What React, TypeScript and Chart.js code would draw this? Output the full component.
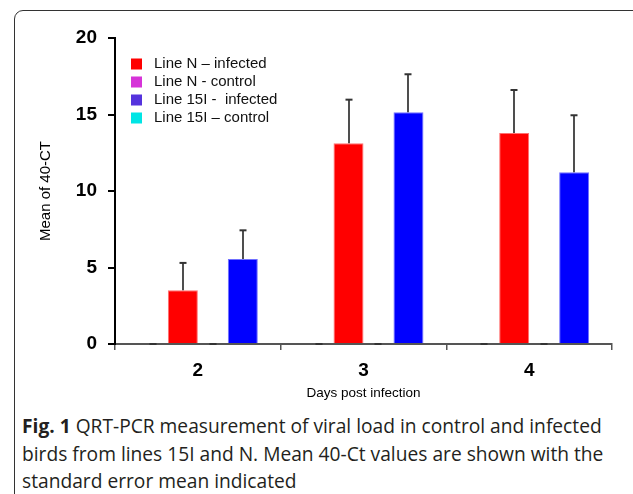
import React, { useEffect, useRef } from "react";
import { Chart, registerables } from "chart.js";

Chart.register(...registerables);

// ---- data ----
const days = ["2", "3", "4"];
const lineNInfected = [3.52, 13.12, 13.79];
const lineNInfectedErr = [1.78, 2.85, 2.81];
const lineNControl = [0, 0, 0];
const lineNControlErr = [0, 0, 0];
const line15IInfected = [5.56, 15.14, 11.22];
const line15IInfectedErr = [1.87, 2.49, 3.73];
const line15IControl = [0, 0, 0];
const line15IControlErr = [0, 0, 0];
const yMin = 0;
const yMax = 20;
const yStep = 5;

const legendOrder = [1, 0, 3, 2]; // dataset indices in legend order

const FONT = "'Liberation Sans', Arial, Helvetica, sans-serif";

const errorBarPlugin = {
  id: "errorBars",
  afterDatasetsDraw(chart: any) {
    const ctx = chart.ctx;
    const y = chart.scales.y;
    chart.data.datasets.forEach((ds: any, di: number) => {
      const meta = chart.getDatasetMeta(di);
      meta.data.forEach((bar: any, i: number) => {
        const v = ds.data[i];
        const e = ds.errors[i];
        const yTop = y.getPixelForValue(v + e);
        const x = Math.round(bar.x);
        ctx.save();
        if (e > 0) {
          ctx.strokeStyle = "#222";
          ctx.lineWidth = 1.6;
          ctx.beginPath();
          ctx.moveTo(x, bar.y);
          ctx.lineTo(x, yTop);
          ctx.stroke();
        }
        ctx.strokeStyle = "#333";
        ctx.lineWidth = 2;
        ctx.beginPath();
        ctx.moveTo(x - 3.5, yTop);
        ctx.lineTo(x + 3.5, yTop);
        ctx.stroke();
        ctx.restore();
      });
    });
  },
};

const legendPlugin = {
  id: "insideLegend",
  afterDraw(chart: any) {
    const ctx = chart.ctx;
    const area = chart.chartArea;
    const x0 = area.left + 16;
    const y0 = area.top + 26;
    const rowH = 18;
    ctx.save();
    ctx.font = `15px ${FONT}`;
    ctx.textBaseline = "middle";
    ctx.textAlign = "left";
    legendOrder.forEach((di, r) => {
      const ds = chart.data.datasets[di];
      const cy = y0 + r * rowH;
      ctx.fillStyle = ds.legendColor;
      ctx.fillRect(x0, cy - 5.5, 11, 11);
      ctx.fillStyle = "#111";
      ctx.fillText(ds.label, x0 + 23, cy);
    });
    ctx.restore();
  },
};

function BarChart() {
  const ref = useRef<HTMLCanvasElement>(null);
  useEffect(() => {
    if (!ref.current) return;
    const chart = new Chart(ref.current, {
      type: "bar",
      data: {
        labels: days,
        datasets: [
          {
            label: "Line N - control",
            data: lineNControl,
            errors: lineNControlErr,
            backgroundColor: "#D633D8",
            legendColor: "#D633D8",
            borderWidth: 0,
          },
          {
            label: "Line N \u2013 infected",
            data: lineNInfected,
            errors: lineNInfectedErr,
            backgroundColor: "#FF0000",
            borderColor: "#FF7070",
            borderWidth: 1,
            legendColor: "#FF0000",
          },
          {
            label: "Line 15I \u2013 control",
            data: line15IControl,
            errors: line15IControlErr,
            backgroundColor: "#00E5E5",
            legendColor: "#00E5E5",
            borderWidth: 0,
          },
          {
            label: "Line 15I -  infected",
            data: line15IInfected,
            errors: line15IInfectedErr,
            backgroundColor: "#0000FF",
            borderColor: "#7070FF",
            borderWidth: 1,
            legendColor: "#5533DD",
          },
        ] as any,
      },
      options: {
        responsive: false,
        devicePixelRatio: 1,
        animation: false,
        layout: { padding: { left: 37, right: 21, top: 38, bottom: 0 } },
        datasets: {
          bar: { categoryPercentage: 0.724, barPercentage: 1 },
        },
        plugins: {
          legend: { display: false },
          tooltip: { enabled: false },
        },
        scales: {
          x: {
            offset: true,
            afterFit(scale: any) {
              scale.height = 66;
            },
            grid: {
              offset: true,
              drawOnChartArea: false,
              drawTicks: true,
              tickLength: 6,
              color: "#555",
              lineWidth: 1.5,
            },
            border: { color: "#555", width: 2 },
            ticks: {
              color: "#000",
              padding: 9,
              font: { family: FONT, size: 19, weight: "bold" },
            },
            title: {
              display: true,
              text: "Days post infection",
              color: "#000",
              font: { family: FONT, size: 13.5 },
              padding: { top: 0, bottom: 9 },
            },
          },
          y: {
            min: yMin,
            max: yMax,
            afterFit(scale: any) {
              scale.width = 78;
            },
            grid: {
              drawOnChartArea: false,
              drawTicks: true,
              tickLength: 7,
              color: "#000",
              lineWidth: 2,
            },
            border: { color: "#000", width: 2 },
            ticks: {
              stepSize: yStep,
              color: "#000",
              padding: 11,
              font: { family: FONT, size: 19, weight: "bold" },
            },
            title: {
              display: true,
              text: "Mean of 40-CT",
              color: "#000",
              font: { family: FONT, size: 15 },
              padding: 0,
            },
          },
        },
      } as any,
      plugins: [errorBarPlugin, legendPlugin],
    });
    return () => chart.destroy();
  }, []);
  return <canvas ref={ref} width={633} height={410} style={{ position: "absolute", left: 0, top: 0 }} />;
}

export default function App() {
  return (
    <div
      style={{
        position: "absolute",
        left: 0,
        top: 0,
        width: 633,
        height: 494,
        overflow: "hidden",
        background: "#fff",
      }}
    >
      <div
        style={{
          position: "absolute",
          left: 14,
          top: 10,
          width: 640,
          height: 520,
          border: "1.5px solid #333",
          borderRadius: 9,
          boxSizing: "border-box",
        }}
      />
      <BarChart />
      <div
        style={{
          position: "absolute",
          left: 22,
          top: 412,
          fontFamily: "'Open Sans', sans-serif",
          fontSize: 19.2,
          lineHeight: "27.5px",
          color: "#231f20",
          whiteSpace: "nowrap",
        }}
      >
        <b>Fig. 1</b> QRT-PCR measurement of viral load in control and infected
        <br />
        birds from lines 15I and N. Mean 40-Ct values are shown with the
        <br />
        standard error mean indicated
      </div>
    </div>
  );
}
